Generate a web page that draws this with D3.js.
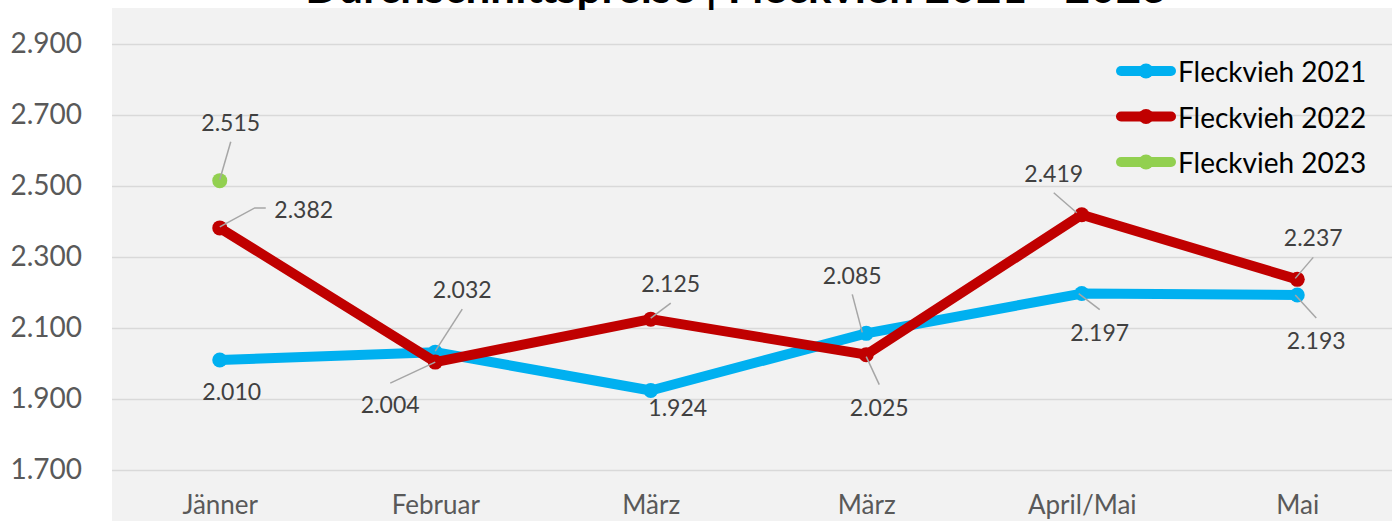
<!DOCTYPE html>
<html>
<head>
<meta charset="utf-8">
<script src="https://cdn.jsdelivr.net/npm/d3@7"></script>
<style>
  body { margin: 0; background: #fff; }
  svg { display: block; font-family: Lato, "Liberation Sans", sans-serif; }
</style>
</head>
<body>
<svg id="chart" width="1392" height="521"></svg>
<script>
const months = ['Jänner', 'Februar', 'März', 'März', 'April/Mai', 'Mai'];
const fv2021 = [2010, 2032, 1924, 2085, 2197, 2193];
const fv2022 = [2382, 2004, 2125, 2025, 2419, 2237];
const fv2023 = [2515, null, null, null, null, null];
const seriesNames = ['Fleckvieh 2021', 'Fleckvieh 2022', 'Fleckvieh 2023'];
const yTicks = [1700, 1900, 2100, 2300, 2500, 2700, 2900];

const WIDTH = 1392;
const HEIGHT = 521;
const PLOT_LEFT = 112;
const PLOT_TOP = 8;

const COLORS = ['#00b0f0', '#c00000', '#92d050'];

// label placement: [dx, dy of text centre, leader points relative to the marker]
const LABEL_POS = [
    [[12, 31, null], [27, -63, [[27, -43], [0, -1]]], [27, 17, null], [-14, -58, [[-14, -39], [-4, -1]]], [18, 38, [[18, 16], [-3, 0]]], [19, 45, [[19, 23], [-2, 0]]]],
    [[84, -19, [[46, -20], [35, -20], [0, -1]]], [-45, 42, [[-45, 21], [0, 0]]], [20, -36, [[20, -16], [0, -1]]], [13, 52, [[13, 30], [0, 2]]], [-28, -42, [[-28, -22], [-5, -2]]], [16, -42, [[16, -22], [-2, -1]]]],
    [[11, -59, [[11, -39], [0, -1]]], null, null, null, null, null]
];

const svg = d3.select('#chart');
const xKeys = months.map((m, i) => i);

const x = d3.scalePoint()
    .domain(xKeys)
    .range([PLOT_LEFT, 1405])
    .padding(0.5);

const y = d3.scaleLinear()
    .domain([1700, 2900])
    .range([470, 44]);

svg.append('rect')
    .attr('x', PLOT_LEFT)
    .attr('y', PLOT_TOP)
    .attr('width', WIDTH - PLOT_LEFT)
    .attr('height', HEIGHT - PLOT_TOP)
    .attr('fill', '#f2f2f2');

// title, clipped at the top like the original
svg.append('text')
    .text('Durchschnittspreise | Fleckvieh 2021 - 2023')
    .attr('x', 736)
    .attr('y', 3)
    .attr('text-anchor', 'middle')
    .attr('font-size', 44)
    .attr('font-weight', 700)
    .attr('fill', '#000');

// y axis
const yAxis = d3.axisLeft(y)
    .tickValues(yTicks)
    .tickSize(-(WIDTH - PLOT_LEFT))
    .tickPadding(30)
    .tickFormat(d => d3.format('.3f')(d / 1000));

const gy = svg.append('g')
    .attr('transform', `translate(${PLOT_LEFT},0)`)
    .call(yAxis);
gy.select('.domain').remove();
gy.selectAll('.tick line')
    .attr('stroke', '#d9d9d9')
    .attr('stroke-width', 1.5);
gy.selectAll('.tick text')
    .attr('font-size', 28)
    .attr('fill', '#595959')
    .attr('font-family', 'Lato, sans-serif');

// x axis
const xAxis = d3.axisBottom(x)
    .tickSize(0)
    .tickPadding(26)
    .tickFormat(i => months[i]);

const gx = svg.append('g')
    .attr('transform', 'translate(0,470)')
    .call(xAxis);
gx.select('.domain').remove();
gx.selectAll('.tick text')
    .attr('font-size', 26)
    .attr('fill', '#595959')
    .attr('font-family', 'Lato, sans-serif');

// series
const allSeries = [fv2021, fv2022, fv2023];
const line = d3.line()
    .defined(d => d.v !== null)
    .x(d => x(d.i))
    .y(d => y(d.v));

allSeries.forEach((values, s) => {
    const pts = values.map((v, i) => ({ i, v }));
    svg.append('path')
        .datum(pts)
        .attr('d', line)
        .attr('fill', 'none')
        .attr('stroke', COLORS[s])
        .attr('stroke-width', 10)
        .attr('stroke-linejoin', 'round');

    svg.selectAll(null)
        .data(pts.filter(d => d.v !== null))
        .enter()
        .append('circle')
        .attr('cx', d => x(d.i))
        .attr('cy', d => y(d.v))
        .attr('r', 7.5)
        .attr('fill', COLORS[s]);
});

// data labels with leader lines
allSeries.forEach((values, s) => {
    values.forEach((v, i) => {
        if (v === null) return;
        const pos = LABEL_POS[s][i];
        const cx = x(i);
        const cy = y(v);
        if (pos[2]) {
            svg.append('polyline')
                .attr('points', pos[2].map(p => [cx + p[0], cy + p[1]].join(',')).join(' '))
                .attr('fill', 'none')
                .attr('stroke', '#a6a6a6')
                .attr('stroke-width', 1.5);
        }
        svg.append('text')
            .text(d3.format('.3f')(v / 1000))
            .attr('x', cx + pos[0])
            .attr('y', cy + pos[1])
            .attr('text-anchor', 'middle')
            .attr('dominant-baseline', 'central')
            .attr('font-size', 23)
            .attr('fill', '#404040');
    });
});

// legend
const legend = svg.append('g')
    .attr('transform', 'translate(1116,71)');
seriesNames.forEach((name, s) => {
    const g = legend.append('g').attr('transform', `translate(0,${s * 45.5})`);
    g.append('line')
        .attr('x1', 5).attr('x2', 55)
        .attr('y1', 0).attr('y2', 0)
        .attr('stroke', COLORS[s])
        .attr('stroke-width', 10)
        .attr('stroke-linecap', 'round');
    g.append('circle')
        .attr('cx', 30).attr('cy', 0).attr('r', 7.5)
        .attr('fill', COLORS[s]);
    g.append('text')
        .text(name)
        .attr('x', 62)
        .attr('y', 0)
        .attr('dominant-baseline', 'central')
        .attr('font-size', 28)
        .attr('fill', '#000');
});
</script>
</body>
</html>
